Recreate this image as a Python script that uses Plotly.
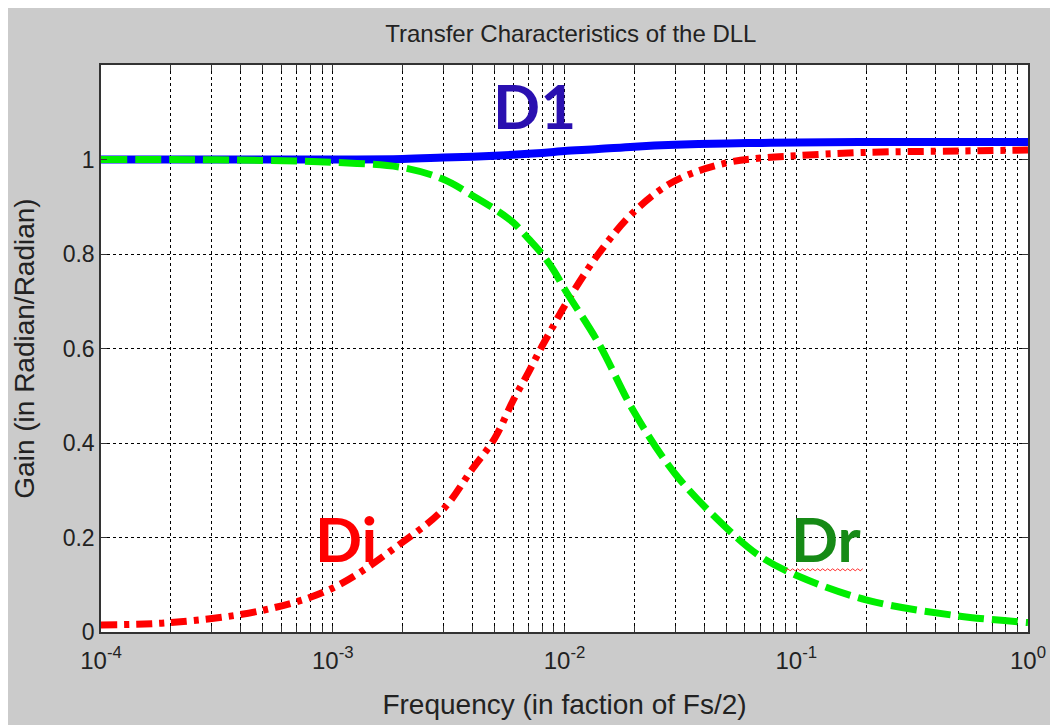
import plotly.graph_objects as go

freq = [1e-4, 2e-4, 5e-4, 1e-3, 2e-3, 3e-3, 4e-3, 5e-3, 6e-3, 7e-3, 8e-3, 9e-3, 1e-2, 1.4e-2, 2e-2, 3e-2, 5e-2, 7e-2, 1e-1, 2e-1, 5e-1, 1.0]
d1 = [1.0, 1.0, 1.0, 1.0, 1.001, 1.004, 1.006, 1.008, 1.01, 1.012, 1.014, 1.016, 1.018, 1.022, 1.027, 1.031, 1.034, 1.035, 1.036, 1.037, 1.037, 1.037]
di = [0.015, 0.02, 0.046, 0.093, 0.19, 0.26, 0.345, 0.41, 0.49, 0.55, 0.605, 0.65, 0.69, 0.8, 0.89, 0.955, 0.993, 1.003, 1.008, 1.015, 1.018, 1.02]
dr = [1.0, 1.0, 0.998, 0.994, 0.983, 0.958, 0.924, 0.895, 0.867, 0.832, 0.8, 0.765, 0.726, 0.612, 0.465, 0.335, 0.22, 0.16, 0.12, 0.068, 0.034, 0.02]

x_tickvals = [m * 10.0 ** e for e in range(-4, 0) for m in range(1, 10)] + [1.0]
x_ticktext = [("10<sup>%d</sup>" % e if m == 1 else "") for e in range(-4, 0) for m in range(1, 10)] + ["10<sup>0</sup>"]
y_tickvals = [0, 0.2, 0.4, 0.6, 0.8, 1]
y_ticktext = ["0", "0.2", "0.4", "0.6", "0.8", "1"]

FONT = "Liberation Sans Narrow, Arial Narrow, Liberation Sans, Arial"
LABEL_FONT = "Lato, Open Sans, sans-serif"

fig = go.Figure()
fig.add_trace(go.Scatter(x=freq, y=d1, mode="lines", line=dict(color="#0000ff", width=8, shape="spline", smoothing=1.0), name="D1"))
fig.add_trace(go.Scatter(x=freq, y=di, mode="lines", line=dict(color="#ff0000", width=7, shape="spline", smoothing=1.0, dash="16px,7px,5px,7px"), name="Di"))
fig.add_trace(go.Scatter(x=freq, y=dr, mode="lines", line=dict(color="#00ee00", width=7, shape="spline", smoothing=1.0, dash="26px,8px"), name="Dr"))

fig.add_annotation(x=-2.13, y=1.115, xref="x", yref="y", text="<b>D1</b>", showarrow=False,
                   font=dict(family=LABEL_FONT, size=62, color="#2a10b0"))
fig.add_annotation(x=-2.945, y=0.2, xref="x", yref="y", text="<b>Di</b>", showarrow=False,
                   font=dict(family=LABEL_FONT, size=62, color="#ff0000"))
fig.add_annotation(x=-0.87, y=0.2, xref="x", yref="y", text="<b>Dr</b>", showarrow=False,
                   font=dict(family=LABEL_FONT, size=62, color="#168a16"))

# spell-check style squiggle under "Dr"
x0, x1, yb, amp, step = 0.738, 0.824, 0.108, 0.0035, 0.0027
pts = []
k = 0
xv = x0
while xv <= x1:
    pts.append((xv, yb + (amp if k % 2 else 0.0)))
    xv += step
    k += 1
path = "M " + " L ".join("%.4f,%.4f" % p for p in pts)
fig.add_shape(type="path", path=path, xref="paper", yref="paper", line=dict(color="#ff3030", width=1))

fig.update_layout(
    width=1058, height=725,
    paper_bgcolor="#cbcbcb", plot_bgcolor="#ffffff",
    margin=dict(l=93, r=38, t=57, b=101),
    showlegend=False,
    title=dict(text="Transfer Characteristics of the DLL", x=0.532, xanchor="center", y=0.965, yanchor="middle",
               font=dict(family=FONT, size=24, color="#222222")),
    font=dict(family=FONT, size=24, color="#222222"),
)
fig.update_xaxes(type="log", range=[-4, 0], tickvals=x_tickvals, ticktext=x_ticktext,
                 showgrid=True, gridcolor="#000000", griddash="dot", gridwidth=1,
                 showline=True, linecolor="#333333", linewidth=1.5, mirror="allticks",
                 ticks="inside", ticklen=6, tickcolor="#333333", ticklabelstandoff=6,
                 tickfont=dict(size=24),
                 title=dict(text="Frequency (in faction of Fs/2)", standoff=22, font=dict(size=28)),
                 zeroline=False)
fig.update_yaxes(range=[0, 1.2], tickvals=y_tickvals, ticktext=y_ticktext,
                 showgrid=True, gridcolor="#000000", griddash="dot", gridwidth=1,
                 showline=True, linecolor="#333333", linewidth=1.5, mirror="allticks",
                 ticks="inside", ticklen=6, tickcolor="#333333",
                 tickfont=dict(size=23),
                 title=dict(text="Gain (in Radian/Radian)", standoff=20, font=dict(size=28)),
                 zeroline=False)

fig.write_html("out.html")
